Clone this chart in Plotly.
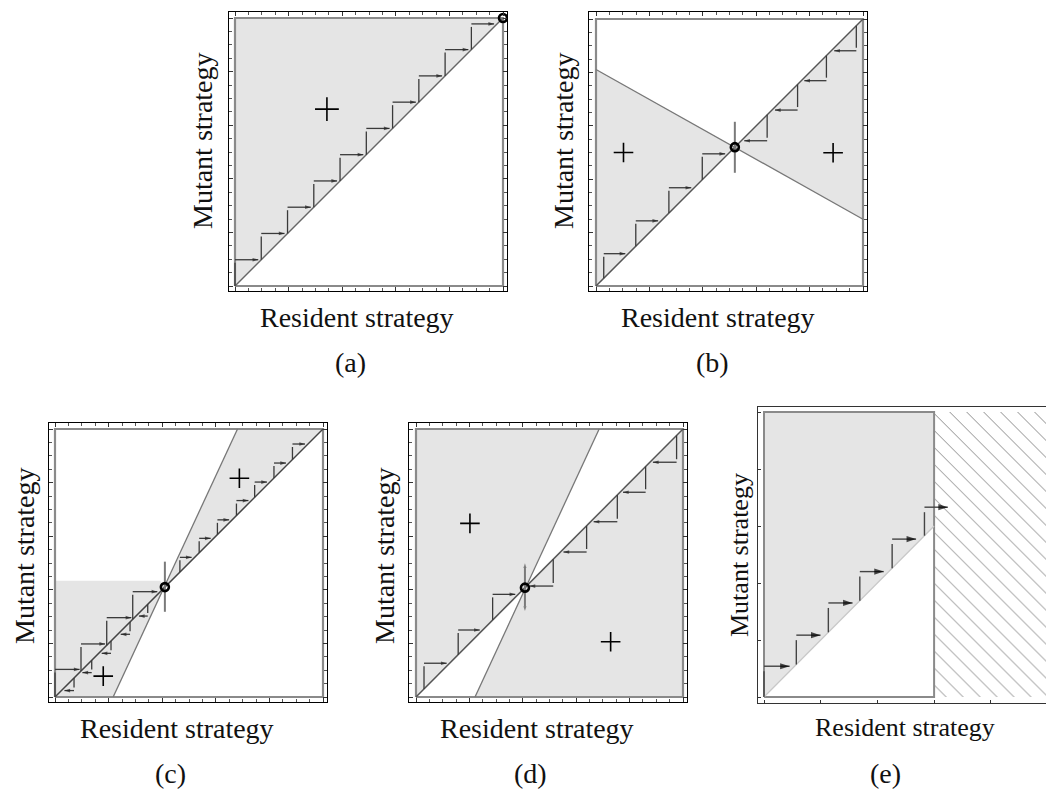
import plotly.graph_objects as go

# ---------------- data ----------------
# panel (a)
a_fill_x = [0, 0, 1]
a_fill_y = [0, 1, 1]
a_res = [0.0, 0.098, 0.196, 0.294, 0.392, 0.490, 0.588, 0.686, 0.784, 0.882]
a_mut = [0.098, 0.196, 0.294, 0.392, 0.490, 0.588, 0.686, 0.784, 0.882, 0.978]
a_plus_x = [0.343]
a_plus_y = [0.66]
a_sing_x = [1.0]
a_sing_y = [1.0]

# panel (b)
b_bound_x = [0, 1]
b_bound_y = [0.811, 0.25]
b_fill1_x = [0, 0, 0.52]
b_fill1_y = [0, 0.811, 0.52]
b_fill2_x = [0.52, 1, 1]
b_fill2_y = [0.52, 1, 0.25]
b_up_res = [0.029, 0.149, 0.273, 0.398]
b_up_mut = [0.121, 0.244, 0.368, 0.495]
b_dn_res = [0.975, 0.863, 0.755, 0.641]
b_dn_mut = [0.881, 0.769, 0.659, 0.544]
b_plus_x = [0.103, 0.888]
b_plus_y = [0.50, 0.499]
b_sing_x = [0.52]
b_sing_y = [0.52]
b_vline_y = [0.424, 0.615]

# panel (c)
c_bound_x = [0.217, 0.681]
c_bound_y = [0, 1]
c_fill1_x = [0.41, 0.681, 1]
c_fill1_y = [0.41, 1, 1]
c_fill2_x = [0, 0, 0.392, 0.41, 0.217]
c_fill2_y = [0, 0.434, 0.434, 0.41, 0]
c_up_res = [0.0, 0.097, 0.193, 0.29]
c_up_mut = [0.103, 0.198, 0.296, 0.393]
c_dn_res = [0.071, 0.137, 0.209, 0.28, 0.346]
c_dn_mut = [0.024, 0.091, 0.163, 0.234, 0.302]
c_hi_res = [0.466, 0.538, 0.606, 0.677, 0.745, 0.817, 0.886]
c_hi_mut = [0.521, 0.592, 0.661, 0.733, 0.802, 0.873, 0.944]
c_plus_x = [0.688, 0.18]
c_plus_y = [0.816, 0.078]
c_sing_x = [0.41]
c_sing_y = [0.41]
c_vline_y = [0.318, 0.505]

# panel (d)
d_bound_x = [0.221, 0.686]
d_bound_y = [0, 1]
d_fill1_x = [0, 0, 0.686, 0.408]
d_fill1_y = [0, 1, 1, 0.408]
d_fill2_x = [0.221, 1, 1, 0.408]
d_fill2_y = [0, 0, 1, 0.408]
d_up_res = [0.03, 0.158, 0.287]
d_up_mut = [0.126, 0.25, 0.383]
d_dn_res = [0.976, 0.86, 0.754, 0.639, 0.514]
d_dn_mut = [0.876, 0.764, 0.654, 0.541, 0.414]
d_plus_x = [0.202, 0.729]
d_plus_y = [0.648, 0.206]
d_sing_x = [0.408]
d_sing_y = [0.408]
d_vline_y = [0.321, 0.499]

# panel (e)
e_fill_x = [0, 0, 3, 3]
e_fill_y = [0, 5, 5, 3]
e_box_x = [0, 3, 3, 0, 0]
e_box_y = [0, 0, 5, 5, 0]
e_diag_x = [0, 3]
e_diag_y = [0, 3]
e_hatch_x = [3, 5.6, 5.6, 3]
e_hatch_y = [0, 0, 5, 5]
e_res = [0.0, 0.57, 1.135, 1.69, 2.26, 2.83]
e_mut = [0.54, 1.085, 1.65, 2.2, 2.77, 3.33]
e_xticks = [0, 1, 2, 3, 4]
e_yticks = [0, 1, 2, 3, 4, 5]

xlabel = "Resident strategy"
ylabel = "Mutant strategy"
tags = ["(a)", "(b)", "(c)", "(d)", "(e)"]

# ---------------- layout helpers ----------------
W, H = 1046, 789
GRAY = "#e5e5e5"
FONT = "Liberation Serif"

# frame (outer) and inner box in pixels: (fx0, fx1, fy0, fy1, ix0, ix1, iy0, iy1)
frames = [
    (229, 507, 12, 291, 235, 503, 18, 286),
    (589, 867, 12, 291, 596, 863, 19, 286),
    (49, 327, 423, 702, 55, 323, 429, 697),
    (409, 687, 423, 702, 416, 683, 429, 697),
]

fig = go.Figure()


def ax_names(n):
    return ("x" if n == 1 else f"x{n}", "y" if n == 1 else f"y{n}")


def add(n, **kw):
    xa, ya = ax_names(n)
    kw.setdefault("hoverinfo", "skip")
    kw.setdefault("showlegend", False)
    fig.add_trace(go.Scatter(xaxis=xa, yaxis=ya, **kw))


def fill(n, x, y):
    add(n, x=list(x) + [x[0]], y=list(y) + [y[0]], mode="lines", fill="toself",
        fillcolor=GRAY, line=dict(width=0))


def box(n):
    add(n, x=[0, 1, 1, 0, 0], y=[0, 0, 1, 1, 0], mode="lines",
        line=dict(color="#8a8a8a", width=2.2))


def line(n, x, y, color="#555", width=1.4):
    add(n, x=x, y=y, mode="lines", line=dict(color=color, width=width))


def steps(n, res, mut, asize=6, color="#3a3a3a", width=1.3, acolor="#222"):
    xs, ys, sz = [], [], []
    for r, m in zip(res, mut):
        xs += [r, r, m, None]
        ys += [r, m, m, None]
        sz += [0, 0, asize, 0]
    add(n, x=xs, y=ys, mode="lines+markers", line=dict(color=color, width=width),
        marker=dict(symbol="arrow", size=sz, angleref="previous", color=acolor,
                    standoff=asize / 2, line=dict(width=0)))


def vline(n, x, ys, arrows=False):
    c = (ys[0] + ys[1]) / 2
    if arrows:
        add(n, x=[x, x, None, x, x], y=[c, ys[1], None, c, ys[0]], mode="lines+markers",
            line=dict(color="#7a7a7a", width=2),
            marker=dict(symbol="arrow", size=[0, 5, 0, 0, 5], angleref="previous",
                        color="#555", line=dict(width=0)))
    else:
        add(n, x=[x, x], y=ys, mode="lines", line=dict(color="#7a7a7a", width=2))


def sing(n, x, y):
    add(n, x=x, y=y, mode="markers",
        marker=dict(symbol="circle-open", size=8, color="black",
                    line=dict(width=2.6, color="black")))


def plus(n, x, y, size=14):
    add(n, x=x, y=y, mode="markers",
        marker=dict(symbol="cross-thin", size=size, line=dict(width=1.6, color="black")))


# ---- panel (a)
fill(1, a_fill_x, a_fill_y)
box(1)
line(1, [0, 1], [0, 1], color="#666", width=1.4)
steps(1, a_res, a_mut)
plus(1, a_plus_x, a_plus_y, size=17)
sing(1, a_sing_x, a_sing_y)

# ---- panel (b)
fill(2, b_fill1_x, b_fill1_y)
fill(2, b_fill2_x, b_fill2_y)
box(2)
line(2, b_bound_x, b_bound_y, color="#777", width=1.3)
line(2, [0, 1], [0, 1], color="#555", width=1.5)
steps(2, b_up_res, b_up_mut)
steps(2, b_dn_res, b_dn_mut)
vline(2, b_sing_x[0], b_vline_y)
plus(2, b_plus_x, b_plus_y)
sing(2, b_sing_x, b_sing_y)

# ---- panel (c)
fill(3, c_fill1_x, c_fill1_y)
fill(3, c_fill2_x, c_fill2_y)
box(3)
line(3, c_bound_x, c_bound_y, color="#777", width=1.3)
line(3, [0, 1], [0, 1], color="#444", width=1.5)
steps(3, c_up_res, c_up_mut)
steps(3, c_dn_res, c_dn_mut)
steps(3, c_hi_res, c_hi_mut)
vline(3, c_sing_x[0], c_vline_y)
plus(3, c_plus_x, c_plus_y)
sing(3, c_sing_x, c_sing_y)

# ---- panel (d)
fill(4, d_fill1_x, d_fill1_y)
fill(4, d_fill2_x, d_fill2_y)
box(4)
line(4, d_bound_x, d_bound_y, color="#777", width=1.3)
line(4, [0, 1], [0, 1], color="#555", width=1.5)
steps(4, d_up_res, d_up_mut)
steps(4, d_dn_res, d_dn_mut)
vline(4, d_sing_x[0], d_vline_y, arrows=True)
plus(4, d_plus_x, d_plus_y)
sing(4, d_sing_x, d_sing_y)

# ---- panel (e)
add(5, x=e_hatch_x + [e_hatch_x[0]], y=e_hatch_y + [e_hatch_y[0]], mode="lines",
    fill="toself", fillcolor="white", line=dict(width=0),
    fillpattern=dict(shape="\\", size=12, solidity=0.07, fgcolor="#777777",
                     bgcolor="white", fillmode="replace"))
fill(5, e_fill_x, e_fill_y)
add(5, x=e_box_x, y=e_box_y, mode="lines", line=dict(color="#8a8a8a", width=2))
line(5, e_diag_x, e_diag_y, color="#c8c8c8", width=1.2)
steps(5, e_res, e_mut, asize=10, color="#444", width=1.4, acolor="black")

# ---------------- axes ----------------
layout = dict(width=W, height=H, margin=dict(l=0, r=0, t=0, b=0),
              plot_bgcolor="white", paper_bgcolor="white", showlegend=False)

for i, (fx0, fx1, fy0, fy1, ix0, ix1, iy0, iy1) in enumerate(frames):
    n = i + 1
    iw, ih = ix1 - ix0, iy1 - iy0
    xr = [-(ix0 - fx0) / iw, 1 + (fx1 - ix1) / iw]
    yr = [-(fy1 - iy1) / ih, 1 + (iy0 - fy0) / ih]
    common = dict(showline=True, linecolor="black", linewidth=1, mirror="allticks",
                  ticks="inside", ticklen=4, tickwidth=1, tickcolor="#333",
                  tick0=0, dtick=0.2, showticklabels=False, showgrid=False,
                  zeroline=False, fixedrange=True,
                  minor=dict(ticks="inside", ticklen=3, tickwidth=1, tickcolor="#555",
                             tick0=0, dtick=0.05, showgrid=False))
    xa, ya = ax_names(n)
    layout["xaxis" if n == 1 else f"xaxis{n}"] = dict(
        domain=[fx0 / W, fx1 / W], range=xr, anchor=ya, **common)
    layout["yaxis" if n == 1 else f"yaxis{n}"] = dict(
        domain=[1 - fy1 / H, 1 - fy0 / H], range=yr, anchor=xa, **common)

# panel (e) axes
ex0, ey0, ux, uy = 764, 697, 56.7, 57.0
layout["xaxis5"] = dict(domain=[758 / W, 1.0], range=[-(ex0 - 758) / ux, (W - ex0) / ux],
                        anchor="y5", showline=True, linecolor="#333", linewidth=1,
                        mirror=True, ticks="inside", ticklen=3, tickcolor="#333",
                        tickvals=e_xticks, showticklabels=False, showgrid=False,
                        zeroline=False, fixedrange=True)
layout["yaxis5"] = dict(domain=[1 - 703 / H, 1 - 407 / H],
                        range=[-(703 - ey0) / uy, (ey0 - 407) / uy],
                        anchor="x5", showline=True, linecolor="#333", linewidth=1,
                        mirror=False, ticks="inside", ticklen=3, tickcolor="#333",
                        tickvals=e_yticks, showticklabels=False, showgrid=False,
                        zeroline=False, fixedrange=True)

fig.update_layout(**layout)

# ---------------- text ----------------
# (xlabel center px, ylabel center px, tag center px, font size)
text_pos = [
    ((357, 317), (203, 141), (350, 362), 28),
    ((718, 317), (564, 141), (712, 362), 28),
    ((177, 728), (24, 556), (170, 773), 28),
    ((537, 728), (384, 556), (530, 773), 28),
    ((905, 727), (739, 555), (885, 773), 26),
]
for (xl, yl, tg, fs), tag in zip(text_pos, tags):
    fig.add_annotation(x=xl[0] / W, y=1 - xl[1] / H, xref="paper", yref="paper",
                       text=xlabel, showarrow=False, xanchor="center", yanchor="middle",
                       font=dict(family=FONT, size=fs, color="#111"))
    fig.add_annotation(x=yl[0] / W, y=1 - yl[1] / H, xref="paper", yref="paper",
                       text=ylabel, showarrow=False, textangle=-90,
                       xanchor="center", yanchor="middle",
                       font=dict(family=FONT, size=fs, color="#111"))
    fig.add_annotation(x=tg[0] / W, y=1 - tg[1] / H, xref="paper", yref="paper",
                       text=tag, showarrow=False, xanchor="center", yanchor="middle",
                       font=dict(family=FONT, size=28, color="#111"))

fig.write_html("out.html")
